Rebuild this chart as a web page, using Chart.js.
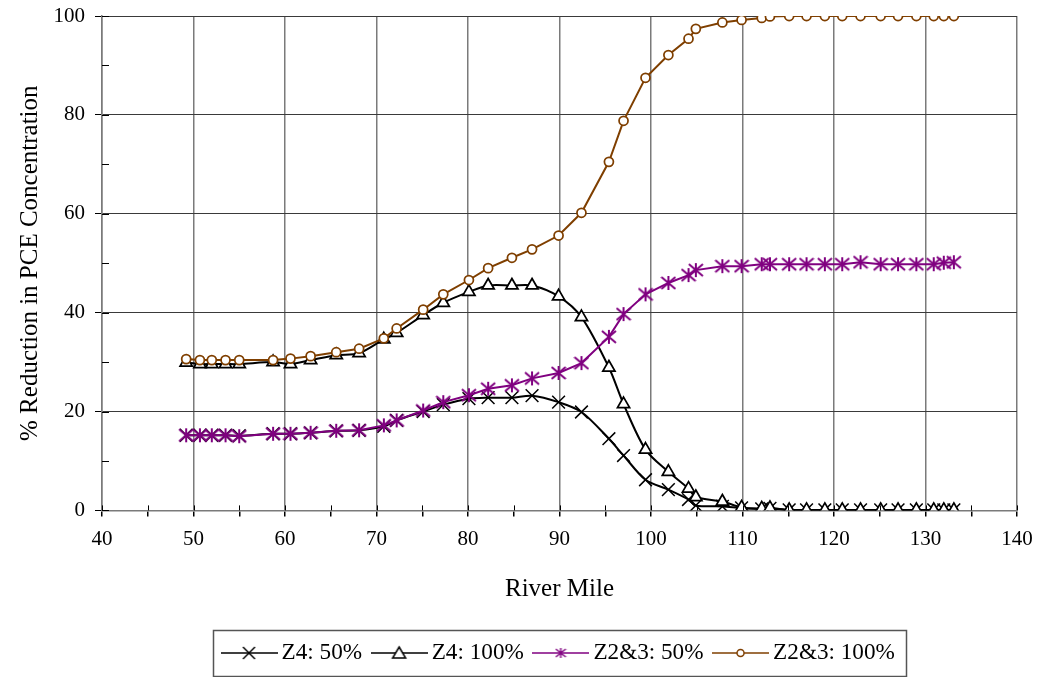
<!DOCTYPE html>
<html>
<head>
<meta charset="utf-8">
<script src="https://cdn.jsdelivr.net/npm/chart.js@4.4.1/dist/chart.umd.min.js"></script>
<style>
  html, body { margin: 0; padding: 0; background: #fff; }
</style>
</head>
<body>
<canvas id="graf" width="1040" height="677"></canvas>
<script>
// data
const riverMile = [49.2, 50.7, 52.0, 53.5, 55.0, 58.7, 60.6, 62.8, 65.6, 68.1, 70.8, 72.2, 75.1, 77.3, 80.1,
  82.2, 84.8, 87.0, 89.9, 92.4, 95.4, 97.0, 99.4, 101.9, 104.1, 104.9, 107.8, 109.9, 112.1, 113.0,
  115.1, 117.0, 119.0, 120.9, 122.9, 125.1, 127.0, 129.0, 130.9, 132.0, 133.1];

const z4Half = [15.2, 15.2, 15.2, 15.2, 15.1, 15.5, 15.5, 15.7, 16.1, 16.2, 17.0, 18.2, 20.0, 21.4, 22.6,
  22.8, 22.8, 23.2, 21.9, 19.9, 14.5, 11.1, 6.2, 4.2, 2.2, 1.0, 0.8, 0.5, 0.3, 0.4,
  0.1, 0.1, 0.1, 0.1, 0.1, 0.1, 0.1, 0.1, 0.1, 0.1, 0.1];

const z4Full = [29.9, 29.6, 29.6, 29.6, 29.6, 30.0, 29.6, 30.4, 31.4, 31.8, 34.6, 35.9, 39.5, 42.0, 44.2,
  45.5, 45.5, 45.5, 43.3, 39.1, 28.9, 21.5, 12.3, 7.8, 4.4, 2.7, 1.8, 0.6, 0.4, 0.5,
  0.1, 0.1, 0.1, 0.1, 0.1, 0.1, 0.1, 0.1, 0.1, 0.1, 0.1];

const z23Half = [15.2, 15.2, 15.2, 15.2, 15.0, 15.5, 15.5, 15.7, 16.1, 16.2, 17.2, 18.2, 20.2, 21.9, 23.3,
  24.6, 25.3, 26.7, 27.8, 29.8, 35.1, 39.7, 43.7, 46.0, 47.6, 48.6, 49.4, 49.4, 49.8, 49.8,
  49.8, 49.8, 49.8, 49.8, 50.2, 49.8, 49.8, 49.8, 49.8, 50.1, 50.2];

const z23Full = [30.6, 30.4, 30.4, 30.4, 30.4, 30.4, 30.7, 31.2, 32.0, 32.7, 34.8, 36.8, 40.6, 43.7, 46.6,
  49.0, 51.1, 52.8, 55.6, 60.2, 70.5, 78.8, 87.5, 92.1, 95.4, 97.4, 98.7, 99.2, 99.6, 99.9,
  100, 100, 100, 100, 100, 100, 100, 100, 100, 100, 100];

const seriesNames = ['Z4: 50%', 'Z4: 100%', 'Z2&3: 50%', 'Z2&3: 100%'];

const FONT = "'Liberation Serif', 'Times New Roman', serif";
const PURPLE = '#800080';
const BROWN = '#7f3f00';
const LEGEND_X = 228;   // where the first legend entry should start

function xy(vals) {
  return riverMile.map((m, i) => ({ x: m, y: vals[i] }));
}

// asterisk marker (vertical bar + X)
function makeAsterisk(size, color, lw) {
  const c = document.createElement('canvas');
  c.width = size; c.height = size;
  const g = c.getContext('2d');
  g.strokeStyle = color; g.lineWidth = lw;
  const e = 1;
  g.beginPath();
  g.moveTo(size / 2, e); g.lineTo(size / 2, size - e);
  g.moveTo(e, e + 1); g.lineTo(size - e, size - e - 1);
  g.moveTo(e, size - e - 1); g.lineTo(size - e, e + 1);
  g.stroke();
  return c;
}

// legend sample: line with marker in the middle
function makeSample(kind, color) {
  const w = 57, h = 22;
  const c = document.createElement('canvas');
  c.width = w; c.height = h;
  const g = c.getContext('2d');
  const cx = w / 2, cy = h / 2;
  g.strokeStyle = color; g.lineWidth = 1.5;
  g.beginPath(); g.moveTo(0, cy); g.lineTo(w, cy); g.stroke();
  if (kind === 'x') {
    g.beginPath();
    g.moveTo(cx - 6, cy - 6); g.lineTo(cx + 6, cy + 6);
    g.moveTo(cx - 6, cy + 6); g.lineTo(cx + 6, cy - 6);
    g.stroke();
  } else if (kind === 'tri') {
    g.fillStyle = '#fff';
    g.beginPath();
    g.moveTo(cx, cy - 6); g.lineTo(cx + 6.5, cy + 5); g.lineTo(cx - 6.5, cy + 5); g.closePath();
    g.fill(); g.stroke();
  } else if (kind === 'star') {
    g.drawImage(makeAsterisk(12, color, 1.5), cx - 6, cy - 6);
  } else {
    g.fillStyle = '#fff';
    g.beginPath(); g.arc(cx, cy, 3.5, 0, Math.PI * 2); g.fill(); g.stroke();
  }
  return c;
}

const samples = [makeSample('x', '#000'), makeSample('tri', '#000'), makeSample('star', PURPLE), makeSample('circle', BROWN)];

const extras = {
  id: 'extras',
  // move the legend row to where the original has it
  afterUpdate(chart) {
    const lg = chart.legend;
    if (!lg || !lg.legendHitBoxes || !lg.legendHitBoxes.length) return;
    const shift = LEGEND_X - lg.legendHitBoxes[0].left;
    lg.left += shift;
    lg.right += shift;
    lg.legendHitBoxes.forEach(h => { h.left += shift; });
  },
  // ticks that cross into the plot + border round the legend
  afterDraw(chart) {
    const ctx = chart.ctx;
    const xs = chart.scales.x, ys = chart.scales.y;
    ctx.save();
    ctx.strokeStyle = '#000';
    ctx.lineWidth = 1;
    ctx.beginPath();
    xs.ticks.forEach(t => {
      const px = Math.round(xs.getPixelForValue(t.value)) + 0.5;
      ctx.moveTo(px, ys.bottom); ctx.lineTo(px, ys.bottom - 5);
    });
    ys.ticks.forEach(t => {
      const py = Math.round(ys.getPixelForValue(t.value)) + 0.5;
      ctx.moveTo(xs.left, py); ctx.lineTo(xs.left + 7, py);
    });
    ctx.stroke();

    const hb = chart.legend.legendHitBoxes;
    if (hb && hb.length) {
      const first = hb[0], last = hb[hb.length - 1];
      const left = first.left - 15, right = last.left + last.width + 11;
      const top = first.top - 11, bottom = first.top + first.height + 11.5;
      ctx.strokeStyle = '#555';
      ctx.lineWidth = 1.5;
      ctx.strokeRect(Math.round(left) + 0.5, Math.round(top) + 0.5, Math.round(right - left), Math.round(bottom - top));
    }
    ctx.restore();
  }
};

const graf = document.getElementById('graf');

const chart = new Chart(graf, {
  type: 'line',
  data: {
    datasets: [
      {
        label: seriesNames[0], data: xy(z4Half), order: 3,
        borderColor: '#000', borderWidth: 2, tension: 0.3,
        pointStyle: 'crossRot', pointRadius: 9, pointBorderWidth: 1.5,
        pointBorderColor: '#000', pointBackgroundColor: '#000'
      },
      {
        label: seriesNames[1], data: xy(z4Full), order: 2,
        borderColor: '#000', borderWidth: 2, tension: 0.3,
        pointStyle: 'triangle', pointRadius: 7, pointBorderWidth: 1.75,
        pointBorderColor: '#000', pointBackgroundColor: '#fff'
      },
      {
        label: seriesNames[2], data: xy(z23Half), order: 1,
        borderColor: PURPLE, borderWidth: 2, tension: 0,
        pointStyle: makeAsterisk(16, PURPLE, 2),
        pointBorderColor: PURPLE, pointBackgroundColor: PURPLE
      },
      {
        label: seriesNames[3], data: xy(z23Full), order: 0,
        borderColor: BROWN, borderWidth: 2, tension: 0,
        pointStyle: 'circle', pointRadius: 4.5, pointBorderWidth: 1.75,
        pointBorderColor: BROWN, pointBackgroundColor: '#fff'
      }
    ]
  },
  options: {
    responsive: false,
    animation: false,
    layout: { padding: { left: 0, right: 23, top: 16, bottom: 2.4 } },
    plugins: {
      tooltip: { enabled: false },
      legend: {
        position: 'bottom',
        labels: {
          usePointStyle: true,
          pointStyleWidth: 42,
          padding: 16,
          color: '#000',
          font: { family: FONT, size: 23.2 },
          generateLabels: () => seriesNames.map((name, i) => ({
            text: name,
            pointStyle: samples[i],
            fillStyle: '#fff',
            strokeStyle: '#000',
            lineWidth: 0,
            hidden: false,
            datasetIndex: i
          }))
        }
      }
    },
    scales: {
      x: {
        type: 'linear', min: 40, max: 140,
        afterFit: s => { s.height = 115; s.paddingLeft = 0; s.paddingRight = 0; },
        ticks: {
          stepSize: 5, autoSkip: false, maxRotation: 0, padding: 10, color: '#000',
          font: { family: FONT, size: 21 },
          callback: v => (v % 10 === 0 ? v : '')
        },
        grid: {
          color: c => (c.tick && c.tick.value % 10 === 0 ? '#7a7a7a' : 'rgba(0,0,0,0)'),
          lineWidth: 1.5, tickColor: '#000', tickLength: 6
        },
        border: { color: '#7a7a7a', width: 1.5 },
        title: {
          display: true, text: 'River Mile', color: '#000',
          font: { family: FONT, size: 25 }, padding: { top: 0, bottom: 21 }
        }
      },
      y: {
        min: 0, max: 100,
        afterFit: s => { s.width = 102; s.paddingTop = 0; s.paddingBottom = 0; },
        ticks: {
          stepSize: 10, autoSkip: false, padding: 10, color: '#000',
          font: { family: FONT, size: 21 },
          callback: v => (v % 20 === 0 ? v : '')
        },
        grid: {
          color: c => (c.tick && c.tick.value % 20 === 0 ? '#3a3a3a' : 'rgba(0,0,0,0)'),
          lineWidth: 1, tickLength: 7,
          tickColor: c => (c.tick && c.tick.value % 20 === 0 ? '#000' : 'rgba(0,0,0,0)')
        },
        border: { color: '#7a7a7a', width: 1.5 },
        title: {
          display: true, text: '% Reduction in PCE Concentration', color: '#000',
          font: { family: FONT, size: 25 }, padding: { top: 15, bottom: 0 }
        }
      }
    }
  },
  plugins: [extras]
});
</script>
</body>
</html>
